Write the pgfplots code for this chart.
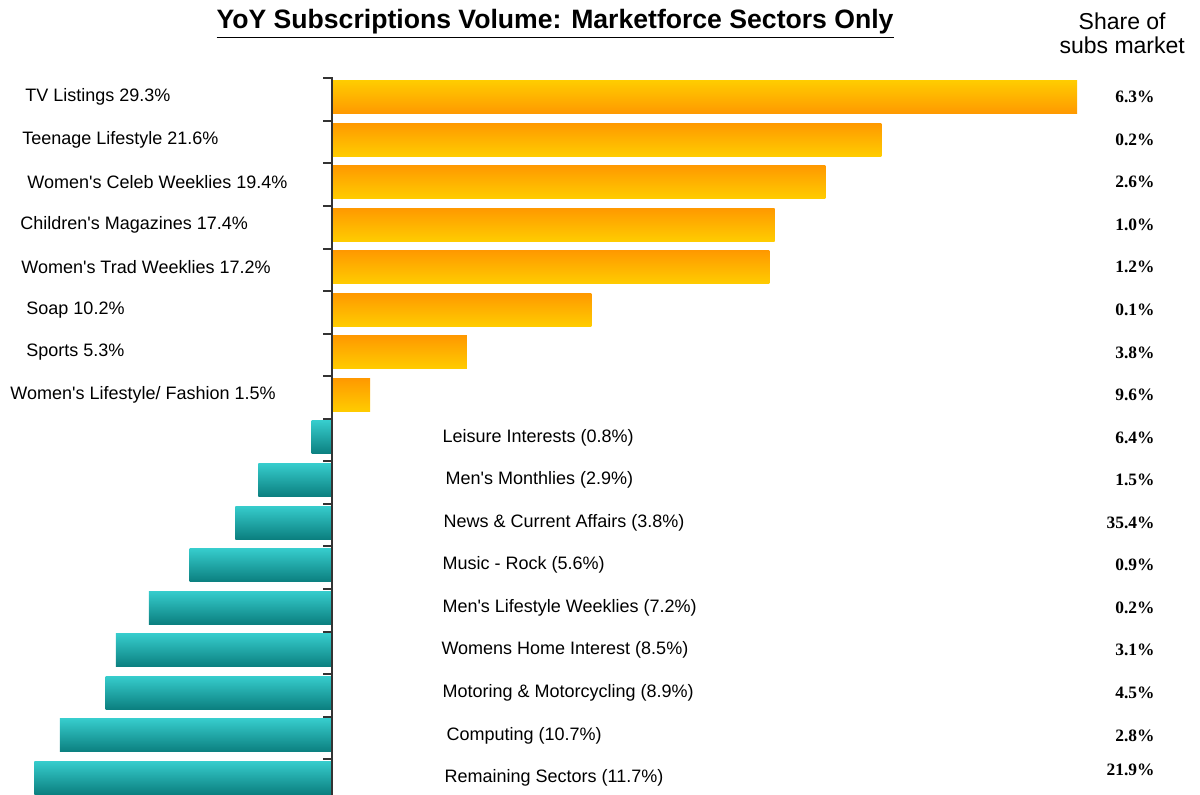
\documentclass[border=0pt]{standalone}
\usepackage{pgfplots}
\pgfplotsset{compat=1.18}
\usepackage{fontspec}
\setmainfont{Liberation Sans}[Ligatures=TeXOff]
\newfontfamily\timesb{Liberation Serif}

\definecolor{barorange}{HTML}{FF9900}
\definecolor{baryellow}{HTML}{FFCC00}
\definecolor{tealtop}{HTML}{36CCCC}
\definecolor{tealbot}{HTML}{0B7F7F}
\definecolor{axisgray}{HTML}{333333}

\pgfplotsset{
    hbar/.style={xbar, bar shift=0pt, bar width=16.5pt, draw=none},
    upbar/.style={hbar, top color=barorange, bottom color=baryellow},
    tvbar/.style={hbar, top color=baryellow, bottom color=barorange},
    downbar/.style={hbar, top color=tealtop, bottom color=tealbot},
}

\begin{document}
\begin{tikzpicture}
\useasboundingbox (0,0) rectangle (600pt,397.5pt);
\begin{axis}[
    at={(0,0)}, anchor=south west,
    scale only axis,
    width=600pt, height=397.5pt,
    hide axis,
    xmin=-13.055, xmax=34.13,
    ymin=-2.279, ymax=16.40,
    y dir=reverse,
    clip=true,
]
% one plot per bar so that each bar gets its own shading
\addplot[tvbar] coordinates {(29.3,0)};
\addplot[upbar] coordinates {(21.6,1)};
\addplot[upbar] coordinates {(19.4,2)};
\addplot[upbar] coordinates {(17.4,3)};
\addplot[upbar] coordinates {(17.2,4)};
\addplot[upbar] coordinates {(10.2,5)};
\addplot[upbar] coordinates {(5.3,6)};
\addplot[upbar] coordinates {(1.5,7)};
\addplot[downbar] coordinates {(-0.8,8)};
\addplot[downbar] coordinates {(-2.9,9)};
\addplot[downbar] coordinates {(-3.8,10)};
\addplot[downbar] coordinates {(-5.6,11)};
\addplot[downbar] coordinates {(-7.2,12)};
\addplot[downbar] coordinates {(-8.5,13)};
\addplot[downbar] coordinates {(-8.9,14)};
\addplot[downbar] coordinates {(-10.7,15)};
\addplot[downbar] coordinates {(-11.7,16)};

% sector labels
\addplot[only marks, mark=none, point meta=explicit symbolic,
    nodes near coords, nodes near coords style={anchor=west, inner sep=0pt,
    font=\fontsize{9}{10}\selectfont}] coordinates {
    (-12.07,0) [TV Listings 29.3\%]
    (-12.19,1) [Teenage Lifestyle 21.6\%]
    (-11.99,2) [Women's Celeb Weeklies 19.4\%]
    (-12.27,3) [Children's Magazines 17.4\%]
    (-12.23,4) [Women's Trad Weeklies 17.2\%]
    (-12.03,5) [Soap 10.2\%]
    (-12.03,6) [Sports 5.3\%]
    (-12.66,7) [Women's Lifestyle/ Fashion 1.5\%]
    (4.33,8) [Leisure Interests (0.8\%)]
    (4.45,9) [Men's Monthlies (2.9\%)]
    (4.37,10) [News \& Current Affairs (3.8\%)]
    (4.33,11) [Music - Rock (5.6\%)]
    (4.33,12) [Men's Lifestyle Weeklies (7.2\%)]
    (4.29,13) [Womens Home Interest (8.5\%)]
    (4.33,14) [Motoring \& Motorcycling (8.9\%)]
    (4.49,15) [Computing (10.7\%)]
    (4.41,16) [Remaining Sectors (11.7\%)]
};

% share of subs market
\addplot[only marks, mark=none, point meta=explicit symbolic,
    nodes near coords, nodes near coords style={anchor=east, inner sep=0pt,
    font=\timesb\bfseries\fontsize{8.7}{10}\selectfont}] coordinates {
    (32.36,0) [6.3\%] (32.36,1) [0.2\%] (32.36,2) [2.6\%] (32.36,3) [1.0\%]
    (32.36,4) [1.2\%] (32.36,5) [0.1\%] (32.36,6) [3.8\%] (32.36,7) [9.6\%]
    (32.36,8) [6.4\%] (32.36,9) [1.5\%] (32.36,10) [35.4\%] (32.36,11) [0.9\%]
    (32.36,12) [0.2\%] (32.36,13) [3.1\%] (32.36,14) [4.5\%] (32.36,15) [2.8\%]
    (32.36,15.8) [21.9\%]
};

% zero line with ticks
\draw[axisgray, line width=1pt] (axis cs:0,-0.46) -- (axis cs:0,16.6);
\pgfplotsinvokeforeach{0,...,16}{
    \draw[axisgray, line width=1pt] (axis cs:-0.35,#1-0.44) -- (axis cs:0,#1-0.44);
}

\node[font=\bfseries\fontsize{13.3}{15}\selectfont] at (axis cs:8.77,-1.715)
    {\underline{YoY Subscriptions Volume: Marketforce Sectors Only}};
\node[align=center, font=\fontsize{11.5}{12}\selectfont] at (axis cs:31.07,-1.5)
    {Share of\\subs market};
\end{axis}
\end{tikzpicture}
\end{document}
